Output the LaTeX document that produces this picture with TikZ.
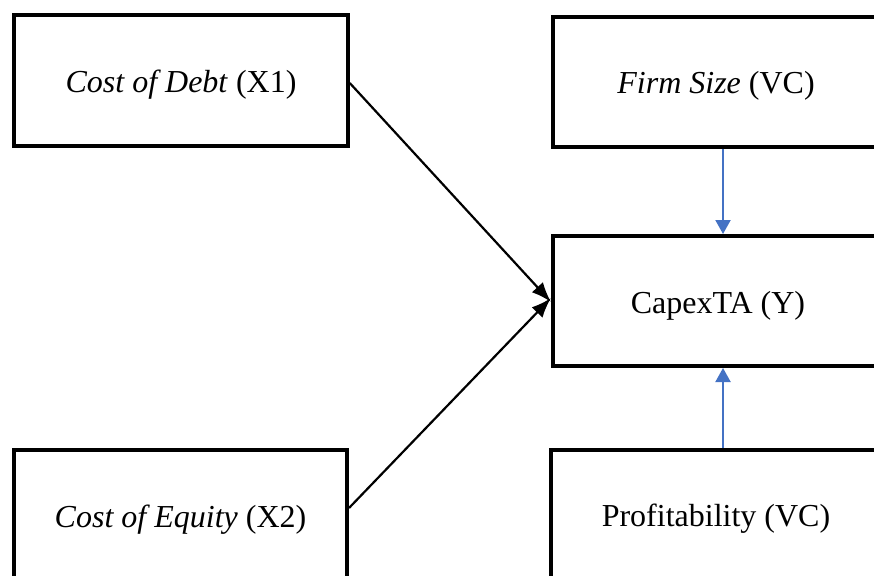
\documentclass[tikz,border=0pt]{standalone}
\usepackage{fontspec}
\setmainfont{Liberation Serif}
\usetikzlibrary{arrows.meta}
\definecolor{arrowblue}{RGB}{68,114,196}
\begin{document}
\begin{tikzpicture}[x=1pt,y=-1pt,
  box/.style={draw=black, line width=4pt, rectangle, minimum height=130pt,
    font=\fontsize{32pt}{38pt}\selectfont, text height=24pt, text depth=0pt, inner sep=0pt},
  blackarrow/.style={line width=2.2pt, -{Latex[length=20pt,width=15pt]}},
  bluearrow/.style={draw=arrowblue, line width=2pt, -{Triangle[length=14pt,width=15pt]}}
]
\useasboundingbox (0,0) rectangle (874,575);
\clip (0,0) rectangle (874,575);
\node[box, minimum width=333.5pt] (debt) at (181,80.5) {\textit{Cost of Debt} (X1)};
\node[box, minimum width=333pt] (equity) at (180.5,515) {\textit{Cost of Equity} (X2)};
\node[box, minimum width=326pt] (firm) at (716,82) {\textit{Firm Size} (VC)};
\node[box, minimum width=330pt] (capex) at (718,301) {CapexTA (Y)};
\node[box, minimum width=330pt] (profit) at (716,514.5) {Profitability (VC)};
\draw[blackarrow] ([yshift=-2.5pt]debt.east) -- ([yshift=-1pt]capex.west);
\draw[blackarrow] ([yshift=7pt]equity.east) -- ([yshift=3pt]capex.west);
\draw[bluearrow] ([xshift=7pt]firm.south) -- ([xshift=5pt]capex.north);
\draw[bluearrow] ([xshift=7pt]profit.north) -- ([xshift=5pt]capex.south);
\end{tikzpicture}
\end{document}
